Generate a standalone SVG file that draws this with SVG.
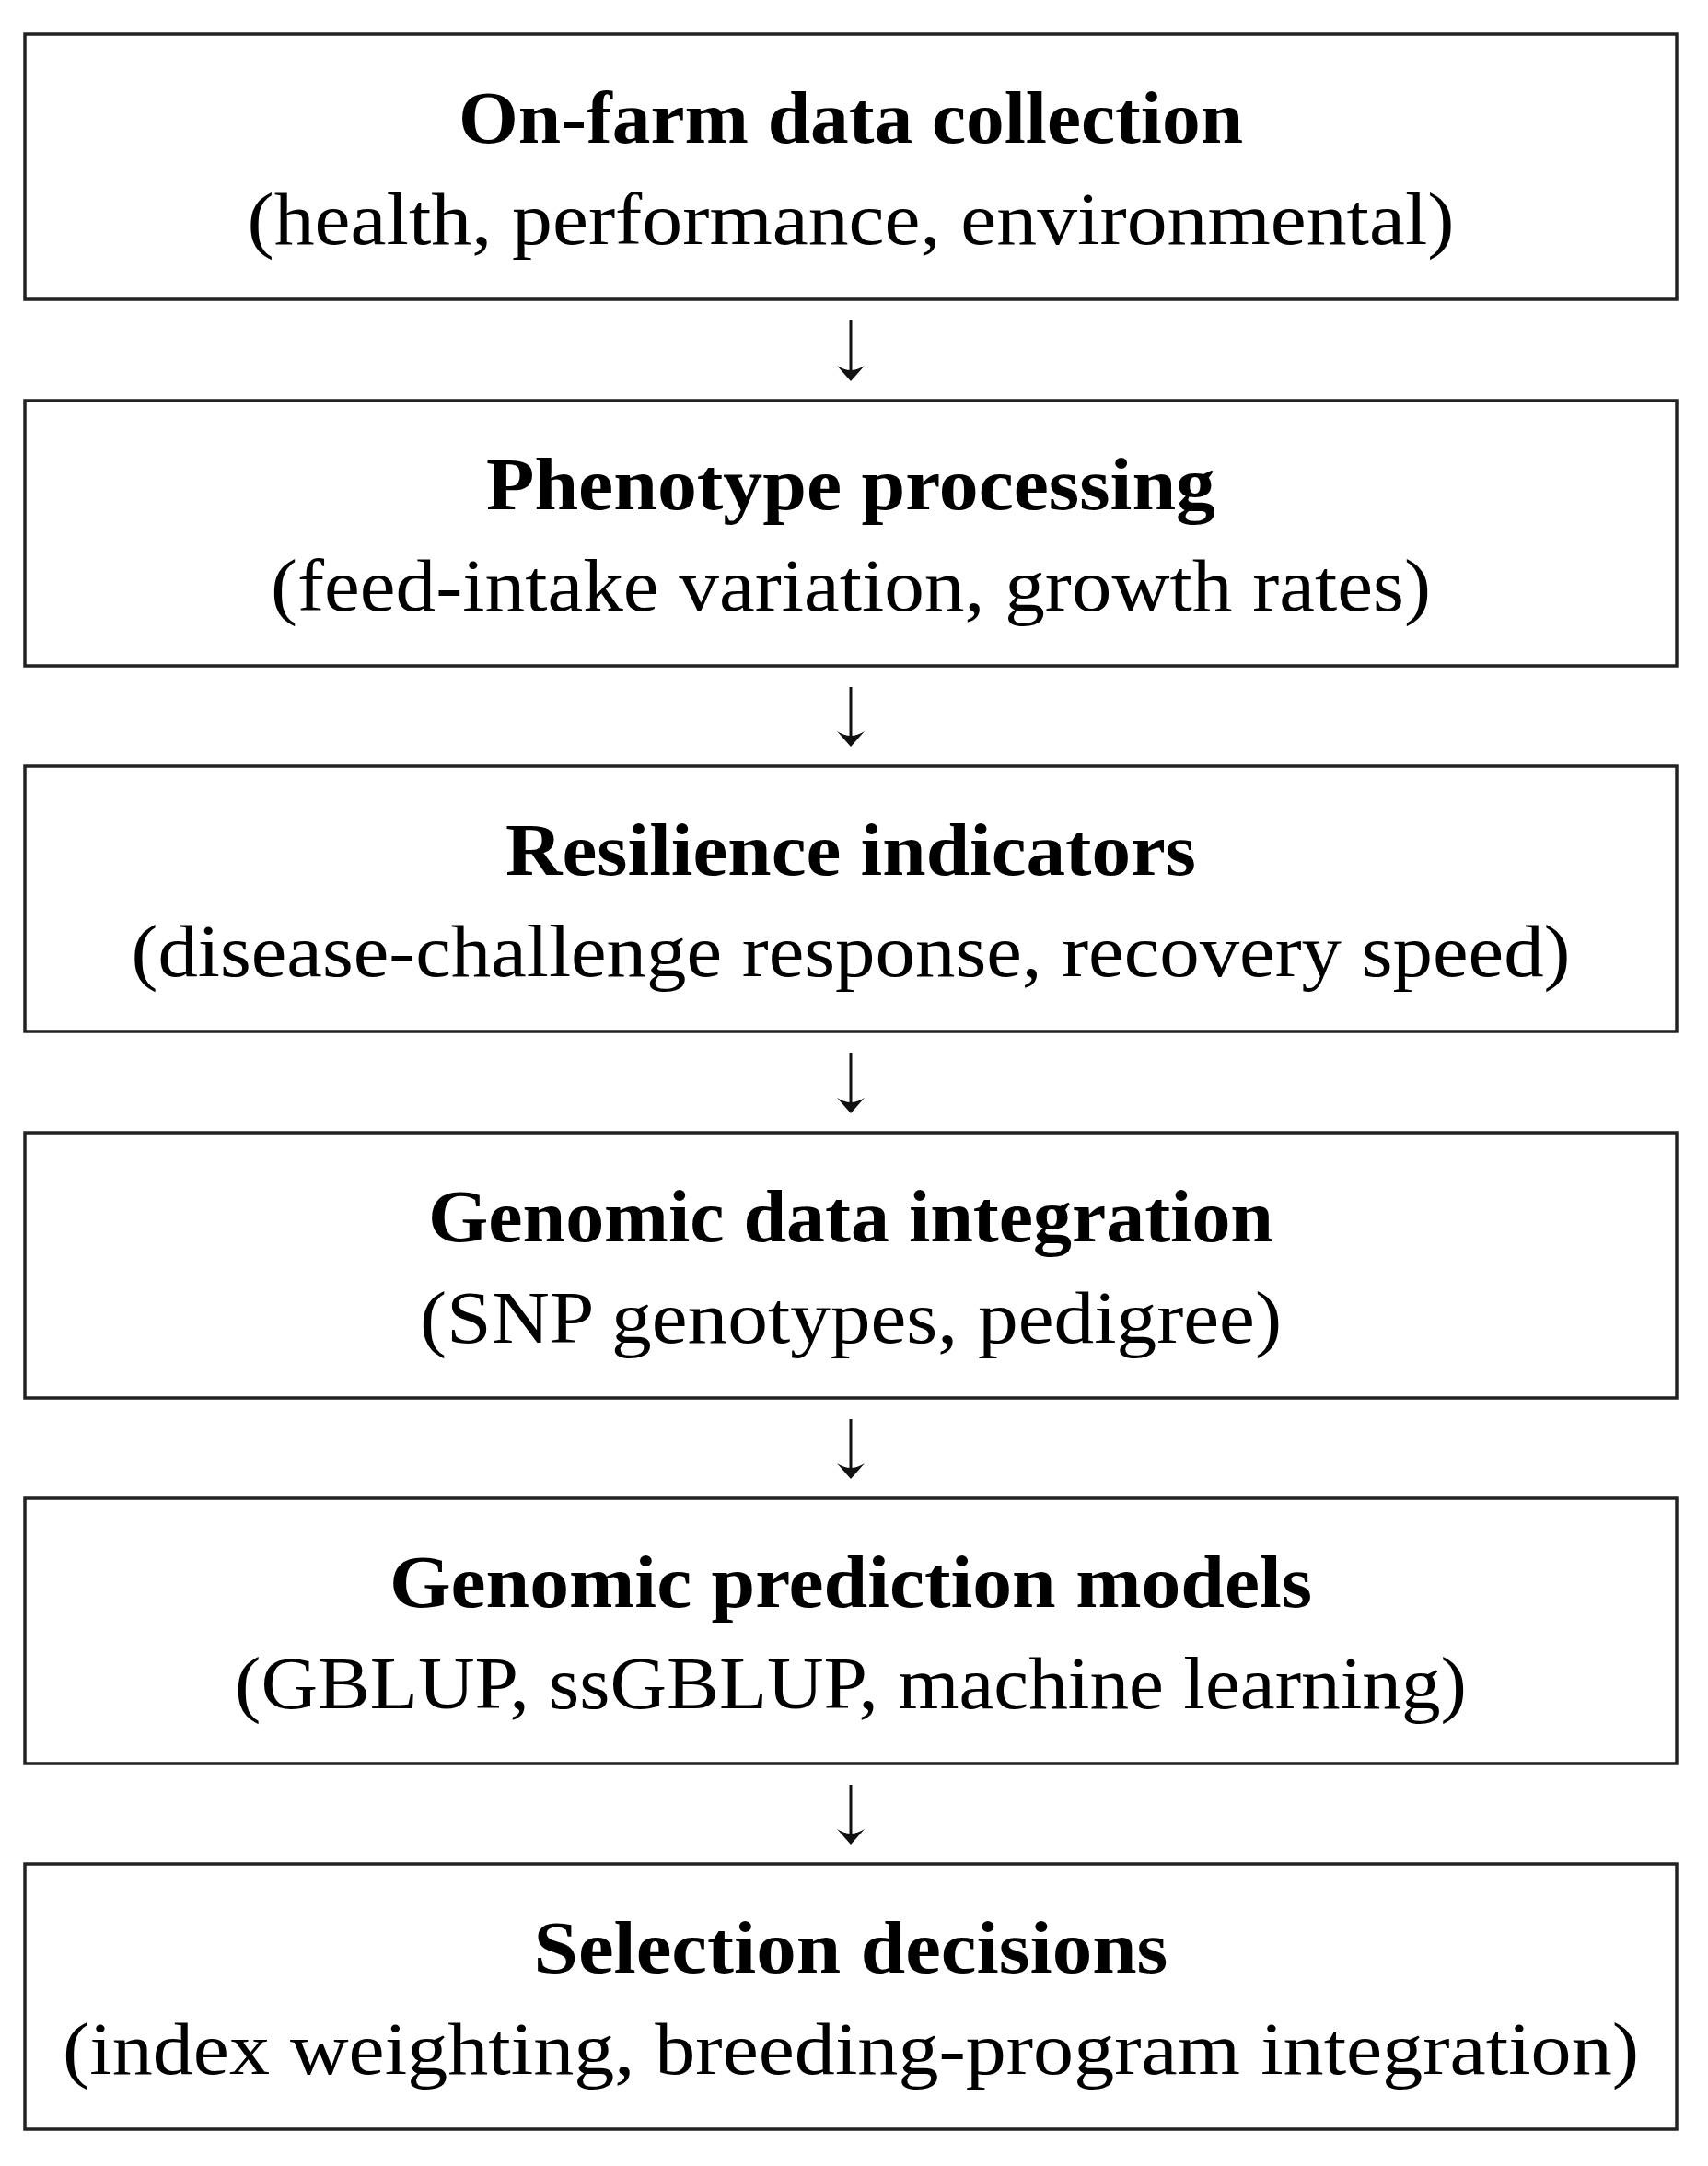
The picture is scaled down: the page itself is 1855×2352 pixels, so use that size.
<svg xmlns="http://www.w3.org/2000/svg" width="1855" height="2352" viewBox="0 0 1855 2352">
<style>
.box{fill:#fff;stroke:#222;stroke-width:3.5}
.t{font-family:"Liberation Serif","Times New Roman",serif;font-size:80px;fill:#000;text-anchor:middle}
.b{font-weight:bold}
.c{stroke:#111;stroke-width:3;fill:none}
</style>
<defs>
<marker id="ah" markerUnits="userSpaceOnUse" markerWidth="24" markerHeight="34" refX="12" refY="16" orient="auto" overflow="visible">
<path d="M20 16 L3 1 Q8 9 8 16 Q8 23 3 31 Z" fill="#111"/>
</marker>
</defs>
<rect width="1855" height="2352" fill="#fff"/>
<g id="connectors">
<line class="c" x1="924" y1="348" x2="924" y2="406" marker-end="url(#ah)"/>
<line class="c" x1="924" y1="746" x2="924" y2="803" marker-end="url(#ah)"/>
<line class="c" x1="924" y1="1143" x2="924" y2="1201" marker-end="url(#ah)"/>
<line class="c" x1="924" y1="1541" x2="924" y2="1598" marker-end="url(#ah)"/>
<line class="c" x1="924" y1="1938" x2="924" y2="1995" marker-end="url(#ah)"/>
</g>
<g id="n1">
<rect class="box" x="27" y="37" width="1794" height="288"/>
<text class="t b" x="924" y="155" textLength="852" lengthAdjust="spacingAndGlyphs">On-farm data collection</text>
<text class="t" x="924" y="265" textLength="1311" lengthAdjust="spacingAndGlyphs">(health, performance, environmental)</text>
</g>
<g id="n2">
<rect class="box" x="27" y="435" width="1794" height="288"/>
<text class="t b" x="924" y="553" textLength="792" lengthAdjust="spacingAndGlyphs">Phenotype processing</text>
<text class="t" x="924" y="663" textLength="1260" lengthAdjust="spacingAndGlyphs">(feed-intake variation, growth rates)</text>
</g>
<g id="n3">
<rect class="box" x="27" y="832" width="1794" height="288"/>
<text class="t b" x="924" y="950" textLength="750" lengthAdjust="spacingAndGlyphs">Resilience indicators</text>
<text class="t" x="924" y="1060" textLength="1563" lengthAdjust="spacingAndGlyphs">(disease-challenge response, recovery speed)</text>
</g>
<g id="n4">
<rect class="box" x="27" y="1230" width="1794" height="288"/>
<text class="t b" x="924" y="1348" textLength="918" lengthAdjust="spacingAndGlyphs">Genomic data integration</text>
<text class="t" x="924" y="1458" textLength="936" lengthAdjust="spacingAndGlyphs">(SNP genotypes, pedigree)</text>
</g>
<g id="n5">
<rect class="box" x="27" y="1627" width="1794" height="288"/>
<text class="t b" x="924" y="1745" textLength="1002" lengthAdjust="spacingAndGlyphs">Genomic prediction models</text>
<text class="t" x="924" y="1855" textLength="1338" lengthAdjust="spacingAndGlyphs">(GBLUP, ssGBLUP, machine learning)</text>
</g>
<g id="n6">
<rect class="box" x="27" y="2024" width="1794" height="288"/>
<text class="t b" x="924" y="2142" textLength="689" lengthAdjust="spacingAndGlyphs">Selection decisions</text>
<text class="t" x="924" y="2252" textLength="1712" lengthAdjust="spacingAndGlyphs">(index weighting, breeding-program integration)</text>
</g>
</svg>
